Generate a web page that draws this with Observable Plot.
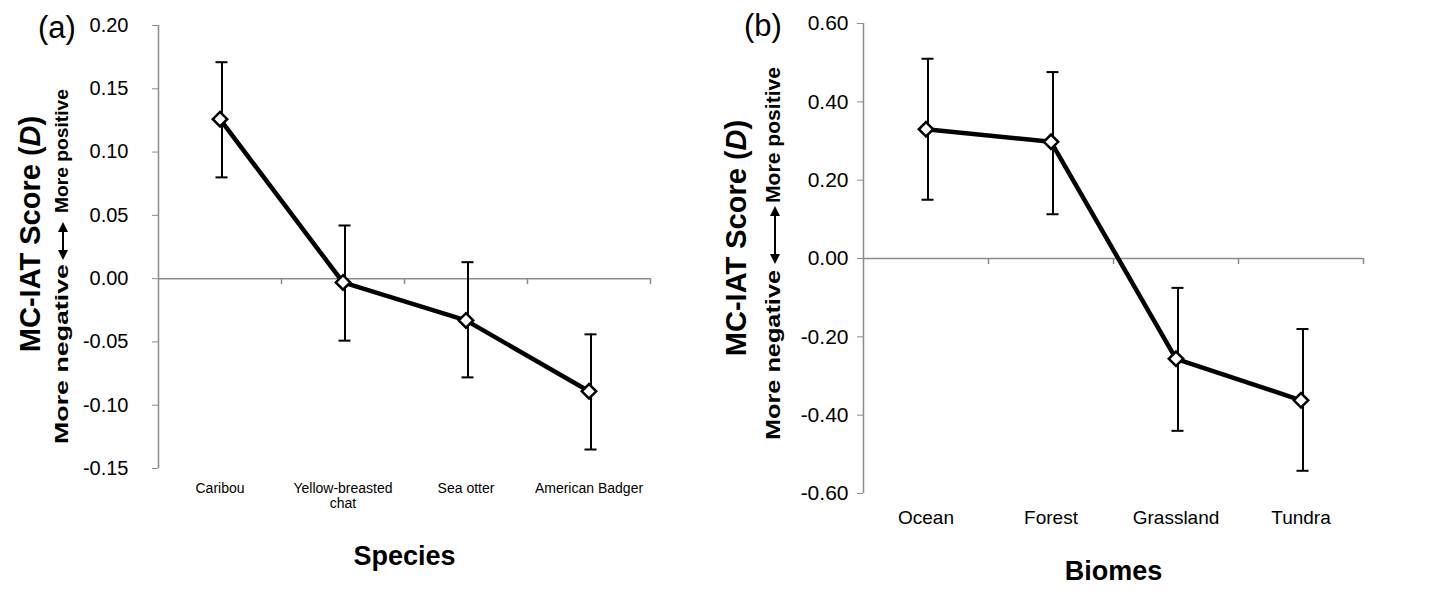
<!DOCTYPE html>
<html><head><meta charset="utf-8">
<script src="https://cdn.jsdelivr.net/npm/d3@7"></script>
<script src="https://cdn.jsdelivr.net/npm/@observablehq/plot@0.6"></script>
<style>
body{margin:0;background:#fff;font-family:"Liberation Sans",Arial,sans-serif;}
#wrap{position:relative;width:1440px;height:597px;overflow:hidden}
#a{position:absolute;left:0;top:0}
#b{position:absolute;left:700px;top:0}
</style></head><body><div id="wrap"><div id="a"></div><div id="b"></div></div>
<script>
// Panel (a): species
const species = ["Caribou", "Yellow-breasted\nchat", "Sea otter", "American Badger"];
const speciesMean = [0.126, -0.003, -0.033, -0.089];
const speciesLow = [0.080, -0.049, -0.078, -0.135];
const speciesHigh = [0.171, 0.042, 0.013, -0.044];
const speciesTicks = [-0.15, -0.10, -0.05, 0, 0.05, 0.10, 0.15, 0.20];

// Panel (b): biomes
const biomes = ["Ocean", "Forest", "Grassland", "Tundra"];
const biomeMean = [0.330, 0.298, -0.256, -0.362];
const biomeLow = [0.150, 0.113, -0.440, -0.542];
const biomeHigh = [0.510, 0.476, -0.075, -0.180];
const biomeTicks = [-0.60, -0.40, -0.20, 0, 0.20, 0.40, 0.60];

const FONT = '"Liberation Sans", Arial, sans-serif';

function panel(cfg) {
  const data = cfg.cats.map((c, i) => ({pos: i + 0.5, cat: c, mean: cfg.mean[i], lo: cfg.lo[i], hi: cfg.hi[i]}));
  const n = cfg.cats.length;
  const bounds = d3.range(1, n + 1);
  const plot = Plot.plot({
    width: cfg.width, height: 597,
    marginLeft: cfg.ml, marginRight: cfg.mr, marginTop: cfg.mt, marginBottom: cfg.mb,
    style: {fontFamily: FONT, color: "black", background: "white"},
    x: {domain: [0, n], axis: null},
    y: {domain: [cfg.ticks[0], cfg.ticks[cfg.ticks.length - 1]], axis: null},
    marks: [
      Plot.axisY({ticks: cfg.ticks, tickFormat: d => d.toFixed(2), tickSize: 6, tickPadding: cfg.yPad,
        stroke: "#8c8c8c", fill: "black", fontSize: cfg.tickFont, label: null}),
      Plot.axisX({ticks: data.map(d => d.pos), tickFormat: d => cfg.cats[Math.floor(d)], tickSize: 0,
        tickPadding: cfg.xPad, fontSize: cfg.catFont, fill: "black", label: null, lineHeight: 1.05}),
      Plot.ruleX([0], {stroke: "#8c8c8c", strokeWidth: 1.5}),
      Plot.ruleY([0], {stroke: "#8c8c8c", strokeWidth: 1.5}),
      Plot.ruleX(bounds, {y1: 0, y2: 0, insetBottom: -6, stroke: "#8c8c8c", strokeWidth: 1.5}),
      Plot.ruleX(data, {x: "pos", y1: "lo", y2: "hi", stroke: "black", strokeWidth: 2, dx: 2}),
      Plot.ruleY(data, {y: "hi", x1: "pos", x2: "pos", insetLeft: -6, insetRight: -6, stroke: "black", strokeWidth: 2, dx: 2}),
      Plot.ruleY(data, {y: "lo", x1: "pos", x2: "pos", insetLeft: -6, insetRight: -6, stroke: "black", strokeWidth: 2, dx: 2}),
      Plot.line(data, {x: "pos", y: "mean", stroke: "black", strokeWidth: 4.5}),
      Plot.dot(data, {x: "pos", y: "mean", symbol: "diamond2", r: 6.5, fill: "white", stroke: "black", strokeWidth: 2.5}),
      Plot.text([cfg.title], {frameAnchor: "bottom", dy: cfg.titleDy, fontSize: 27, fontWeight: "bold", fill: "black"})
    ]
  });
  const svg = d3.select(plot);
  // panel letter
  svg.append("text").attr("x", cfg.letterX).attr("y", cfg.letterY).attr("text-anchor", "middle")
    .attr("font-size", 31).attr("font-family", FONT).attr("fill", "black").text(cfg.letter);
  // y axis title with italic D
  const t = svg.append("text").attr("transform", `translate(${cfg.labX},${cfg.labY}) rotate(-90)`)
    .attr("text-anchor", "middle").attr("dominant-baseline", "middle")
    .attr("font-size", 29).attr("font-weight", "bold").attr("font-family", FONT).attr("fill", "black");
  t.append("tspan").text("MC-IAT Score (");
  t.append("tspan").attr("font-style", "italic").text("D");
  t.append("tspan").text(")");
  // direction annotation
  const ax = cfg.annX;
  svg.append("text").attr("transform", `translate(${ax},${cfg.posY}) rotate(-90)`)
    .attr("text-anchor", "middle").attr("dominant-baseline", "middle")
    .attr("font-size", cfg.annFont).attr("font-weight", "bold").attr("font-family", FONT)
    .attr("textLength", cfg.posLen).attr("lengthAdjust", "spacingAndGlyphs").text("More positive");
  svg.append("text").attr("transform", `translate(${ax},${cfg.negY}) rotate(-90)`)
    .attr("text-anchor", "middle").attr("dominant-baseline", "middle")
    .attr("font-size", cfg.annFont).attr("font-weight", "bold").attr("font-family", FONT)
    .attr("textLength", cfg.negLen).attr("lengthAdjust", "spacingAndGlyphs").text("More negative");
  svg.append("line").attr("x1", ax).attr("x2", ax).attr("y1", cfg.arrTop + 8).attr("y2", cfg.arrBot - 8)
    .attr("stroke", "black").attr("stroke-width", 2);
  svg.append("path").attr("d", `M${ax},${cfg.arrTop}L${ax - 5},${cfg.arrTop + 10}L${ax + 5},${cfg.arrTop + 10}Z`).attr("fill", "black");
  svg.append("path").attr("d", `M${ax},${cfg.arrBot}L${ax - 5},${cfg.arrBot - 10}L${ax + 5},${cfg.arrBot - 10}Z`).attr("fill", "black");
  return plot;
}

document.getElementById("a").appendChild(panel({
  cats: species, mean: speciesMean, lo: speciesLow, hi: speciesHigh, ticks: speciesTicks,
  width: 700, ml: 158, mr: 50, mt: 25, mb: 129, tickFont: 20, catFont: 14, xPad: 14, yPad: 24,
  title: "Species", titleDy: 96, letter: "(a)", letterX: 57, letterY: 38,
  labX: 32, labY: 234, annX: 63, posY: 151, negY: 354, arrTop: 222, arrBot: 260,
  annFont: 19, posLen: 124, negLen: 180
}));
document.getElementById("b").appendChild(panel({
  cats: biomes, mean: biomeMean, lo: biomeLow, hi: biomeHigh, ticks: biomeTicks,
  width: 740, ml: 163, mr: 77, mt: 23, mb: 104, tickFont: 21, catFont: 19, xPad: 16, yPad: 9,
  title: "Biomes", titleDy: 86, letter: "(b)", letterX: 63, letterY: 36,
  labX: 38, labY: 238, annX: 75, posY: 135, negY: 355, arrTop: 206, arrBot: 264,
  annFont: 20, posLen: 136, negLen: 170
}));
</script>
</body></html>
